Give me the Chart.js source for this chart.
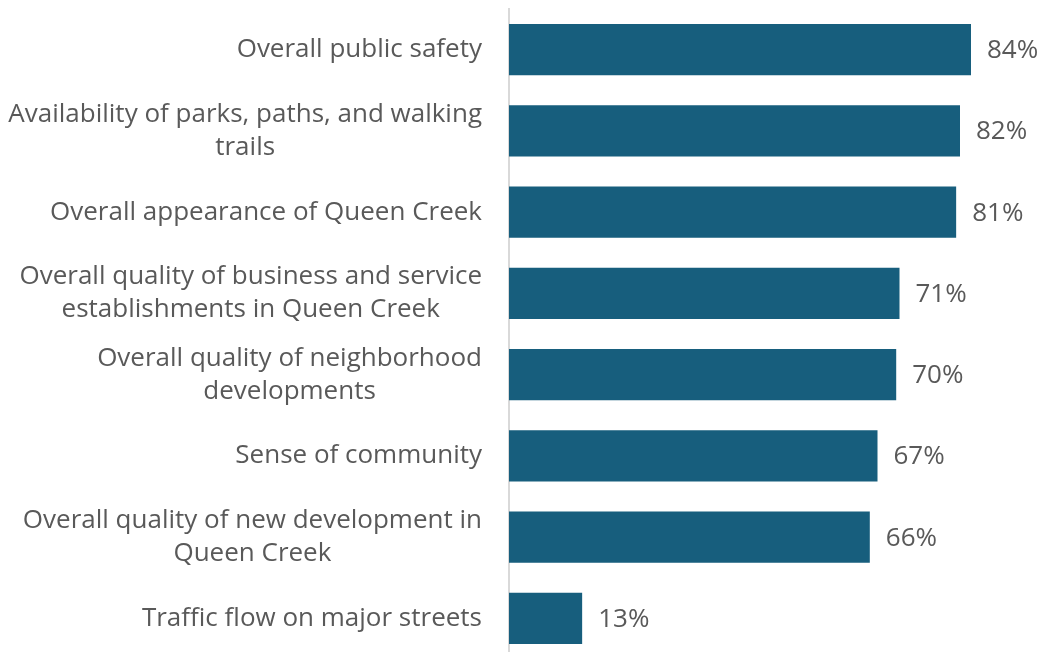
<!DOCTYPE html>
<html>
<head>
<meta charset="utf-8">
<script src="https://cdn.jsdelivr.net/npm/chart.js@4"></script>
<style>
  html, body { margin: 0; padding: 0; background: #fff; overflow: hidden; }
  #wrap { width: 1042px; height: 660px; }
</style>
</head>
<body>
<div id="wrap"><canvas id="chart" width="1042" height="660"></canvas></div>
<script>
// Data
const categories = [
    ['Overall public safety'],
    ['Availability of parks, paths, and walking', 'trails'],
    ['Overall appearance of Queen Creek'],
    ['Overall quality of business and service', 'establishments in Queen Creek'],
    ['Overall quality of neighborhood', 'developments'],
    ['Sense of community'],
    ['Overall quality of new development in', 'Queen Creek'],
    ['Traffic flow on major streets']
];
// bar lengths as measured; labels show them rounded
const percentages = [84, 82, 81.3, 71, 70.4, 67, 65.6, 13.3];

const barColor = '#175e7d';
const textColor = '#595959';
const fontFamily = '"Open Sans", sans-serif';

// Category labels: block right-aligned next to the axis, lines centred inside the block
const categoryLabels = {
    id: 'categoryLabels',
    afterDraw(chart) {
        const ctx = chart.ctx;
        const yScale = chart.scales.y;
        const right = chart.chartArea.left - 27;
        const lineHeight = 33;
        ctx.save();
        ctx.font = '26px ' + fontFamily;
        ctx.fillStyle = textColor;
        ctx.textAlign = 'center';
        ctx.textBaseline = 'middle';
        categories.forEach((lines, i) => {
            const widest = Math.max(...lines.map(l => ctx.measureText(l).width));
            const cx = right - widest / 2;
            const cy = yScale.getPixelForValue(i);
            const top = cy - (lines.length - 1) * lineHeight / 2;
            lines.forEach((line, j) => ctx.fillText(line, cx, top + j * lineHeight));
        });
        ctx.restore();
    }
};

// Value labels at the end of each bar
const valueLabels = {
    id: 'valueLabels',
    afterDatasetsDraw(chart) {
        const ctx = chart.ctx;
        const meta = chart.getDatasetMeta(0);
        ctx.save();
        ctx.font = '26px ' + fontFamily;
        ctx.fillStyle = textColor;
        ctx.textAlign = 'left';
        ctx.textBaseline = 'middle';
        meta.data.forEach((bar, i) => {
            ctx.fillText(Math.round(percentages[i]) + '%', bar.x + 16, bar.y + 1);
        });
        ctx.restore();
    }
};

new Chart(document.getElementById('chart').getContext('2d'), {
    type: 'bar',
    data: {
        labels: categories,
        datasets: [{
            data: percentages,
            backgroundColor: barColor,
            borderWidth: 0,
            barPercentage: 0.63,
            categoryPercentage: 1.0
        }]
    },
    options: {
        indexAxis: 'y',
        responsive: false,
        animation: false,
        layout: {
            padding: { left: 509, right: 38, top: 9, bottom: 1 }
        },
        scales: {
            x: {
                display: false,
                min: 0,
                max: 90
            },
            y: {
                ticks: { display: false },
                grid: { display: false, drawTicks: false },
                border: { display: true, color: '#d9d9d9', width: 2 }
            }
        },
        plugins: {
            legend: { display: false },
            tooltip: { enabled: false }
        }
    },
    plugins: [categoryLabels, valueLabels]
});
</script>
</body>
</html>
